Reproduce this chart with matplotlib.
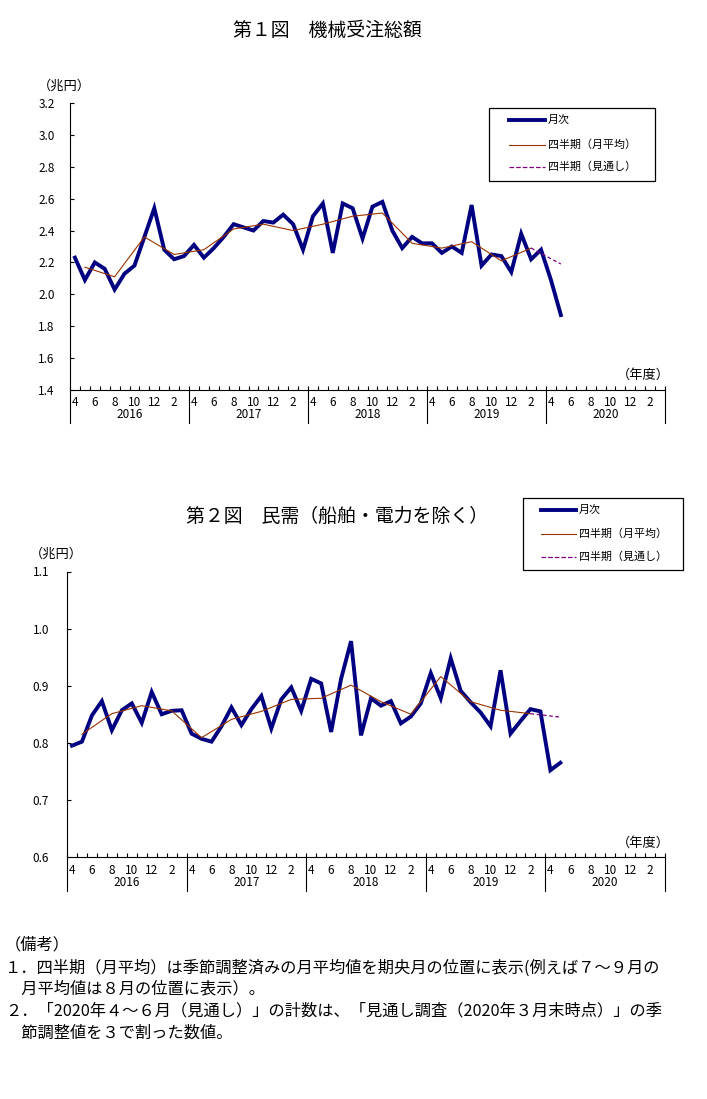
import numpy as np
import matplotlib
matplotlib.use("Agg")
import matplotlib.pyplot as plt
from matplotlib.patches import Rectangle
from matplotlib.lines import Line2D

plt.rcParams['font.family'] = ['Noto Sans CJK JP', 'DejaVu Sans']

# ---------------- data ----------------
fiscal_years = ["2016", "2017", "2018", "2019", "2020"]
month_labels = ["4", "6", "8", "10", "12", "2"]

# Chart 1: 機械受注総額 (兆円), monthly Apr 2016 - May 2020
total_monthly = [
    2.23, 2.09, 2.20, 2.16, 2.03, 2.13, 2.18, 2.36, 2.54, 2.28, 2.22, 2.24,
    2.31, 2.23, 2.29, 2.36, 2.44, 2.42, 2.40, 2.46, 2.45, 2.50, 2.44, 2.28,
    2.49, 2.57, 2.26, 2.57, 2.54, 2.35, 2.55, 2.58, 2.40, 2.29, 2.36, 2.32,
    2.32, 2.26, 2.30, 2.26, 2.56, 2.18, 2.25, 2.24, 2.14, 2.38, 2.22, 2.28,
    2.09, 1.87,
]
total_quarterly = [2.17, 2.11, 2.36, 2.25, 2.28, 2.41, 2.44, 2.40,
                   2.44, 2.49, 2.51, 2.32, 2.29, 2.33, 2.21, 2.29]
total_outlook = [2.29, 2.19]

# Chart 2: 民需（船舶・電力を除く） (兆円)
private_monthly = [
    0.795, 0.802, 0.848, 0.873, 0.822, 0.857, 0.869, 0.835, 0.889, 0.850, 0.856, 0.857,
    0.816, 0.807, 0.802, 0.829, 0.862, 0.831, 0.859, 0.882, 0.825, 0.876, 0.897, 0.856,
    0.912, 0.904, 0.819, 0.912, 0.978, 0.813, 0.878, 0.865, 0.873, 0.834, 0.846, 0.869,
    0.922, 0.878, 0.948, 0.891, 0.871, 0.853, 0.829, 0.927, 0.816, 0.838, 0.859, 0.855,
    0.752, 0.765,
]
private_quarterly = [0.815, 0.851, 0.865, 0.856, 0.809, 0.841, 0.855, 0.876,
                     0.878, 0.901, 0.872, 0.850, 0.916, 0.872, 0.857, 0.851]
private_outlook = [0.851, 0.845]

legend_labels = ["月次", "四半期（月平均）", "四半期（見通し）"]

# ---------------- layout helpers ----------------
W, H = 707, 1099
fig = plt.figure(figsize=(W / 100, H / 100), dpi=100)
fig.patch.set_facecolor("white")


def fx(x):
    return x / W


def fy(y):
    return 1 - y / H


def add_ax(x0, y0, x1, y1):
    return fig.add_axes([fx(x0), fy(y1), (x1 - x0) / W, (y1 - y0) / H])


NAVY = "#000080"
BROWN = "#993300"
PURPLE = "#800080"
FS_TICK = 8.5


def draw_chart(ax, monthly, quarterly, outlook, ylim, ystep, ypad,
               px_bottom, px_height, month_dy, year_dy, sep_dy):
    n_months = 60
    xm = np.arange(len(monthly)) + 0.5
    xq = np.arange(len(quarterly)) * 3 + 1.5
    xo = np.array([xq[-1], xq[-1] + 3])
    l1, = ax.plot(xm, monthly, color=NAVY, lw=2.8, solid_joinstyle="miter",
                  zorder=3)
    l2, = ax.plot(xq, quarterly, color=BROWN, lw=0.8, zorder=4)
    l3, = ax.plot(xo, outlook, color=PURPLE, lw=0.9, ls=(0, (3, 2)), zorder=4)
    ax.set_xlim(0, n_months)
    ax.set_ylim(*ylim)
    yt = np.round(np.arange(ylim[0], ylim[1] + ystep / 2, ystep), 2)
    ax.set_yticks(yt)
    ax.set_yticklabels([f"{v:.1f}" for v in yt])
    ax.tick_params(axis="y", direction="in", length=3, width=0.8,
                   labelsize=FS_TICK, pad=ypad)
    ax.set_xticks(np.arange(0, n_months + 1))
    ax.tick_params(axis="x", direction="in", length=3, width=0.8,
                   labelbottom=False)
    for s in ["top", "right"]:
        ax.spines[s].set_visible(False)
    for s in ["left", "bottom"]:
        ax.spines[s].set_linewidth(0.8)
    tr = ax.get_xaxis_transform()
    # month labels / year labels / separators below axis
    for k, yr in enumerate(fiscal_years):
        for j, lab in enumerate(month_labels):
            ax.text(12 * k + 2 * j + 0.5, -month_dy / px_height, lab,
                    transform=tr, ha="center", va="center", fontsize=FS_TICK,
                    clip_on=False)
        ax.text(12 * k + 6, -year_dy / px_height, yr, transform=tr,
                ha="center", va="center", fontsize=FS_TICK, clip_on=False)
    for k in range(len(fiscal_years) + 1):
        ax.plot([12 * k, 12 * k], [0, -sep_dy / px_height], transform=tr,
                color="black", lw=0.8, clip_on=False)
    ax.set_facecolor("none")
    return [l1, l2, l3]


def draw_legend(handles, box, line_x0, line_x1, text_x, rows, fs=7.9):
    x0, y0, x1, y1 = box
    fig.add_artist(Rectangle((fx(x0), fy(y1)), (x1 - x0) / W, (y1 - y0) / H,
                             transform=fig.transFigure, fill=False,
                             edgecolor="black", lw=0.9))
    for h, lab, ry in zip(handles, legend_labels, rows):
        fig.add_artist(Line2D([fx(line_x0), fx(line_x1)], [fy(ry), fy(ry)],
                              transform=fig.transFigure, color=h.get_color(),
                              lw=h.get_linewidth(), ls=h.get_linestyle()))
        fig.text(fx(text_x), fy(ry), lab, ha="left", va="center", fontsize=fs)


# ---------------- chart 1 ----------------
ax1 = add_ax(70, 103, 665, 390)
h1 = draw_chart(ax1, total_monthly, total_quarterly, total_outlook,
                (1.4, 3.2), 0.2, 11, 390, 287, 13, 25, 33)
fig.text(fx(327), fy(31), "第１図　機械受注総額", ha="center", va="center",
         fontsize=13.6)
fig.text(fx(64), fy(86), "（兆円）", ha="center", va="center", fontsize=9.5)
fig.text(fx(643), fy(375), "（年度）", ha="center", va="center", fontsize=9.5)
draw_legend(h1, (489, 108, 655, 181), 509, 545, 548, (120, 145, 166.5))

# ---------------- chart 2 ----------------
ax2 = add_ax(67, 571.5, 665, 857)
h2 = draw_chart(ax2, private_monthly, private_quarterly, private_outlook,
                (0.6, 1.1), 0.1, 13, 857, 285.5, 13, 26, 34)
fig.text(fx(337), fy(516), "第２図　民需（船舶・電力を除く）", ha="center",
         va="center", fontsize=13.6)
fig.text(fx(56), fy(554), "（兆円）", ha="center", va="center", fontsize=9.5)
fig.text(fx(643), fy(843), "（年度）", ha="center", va="center", fontsize=9.5)
draw_legend(h2, (523, 498, 683, 570), 541, 576, 579, (510, 534, 557))

# ---------------- notes ----------------
notes = [
    "（備考）",
    "１．四半期（月平均）は季節調整済みの月平均値を期央月の位置に表示(例えば７～９月の",
    "　月平均値は８月の位置に表示）。",
    "２．「2020年４～６月（見通し）」の計数は、「見通し調査（2020年３月末時点）」の季",
    "　節調整値を３で割った数値。",
]
note_y = [945, 968, 989, 1011, 1033]
for t, yy in zip(notes, note_y):
    fig.text(fx(5), fy(yy), t, ha="left", va="center", fontsize=11.7)

fig.savefig("out.png", dpi=100, facecolor="white")
